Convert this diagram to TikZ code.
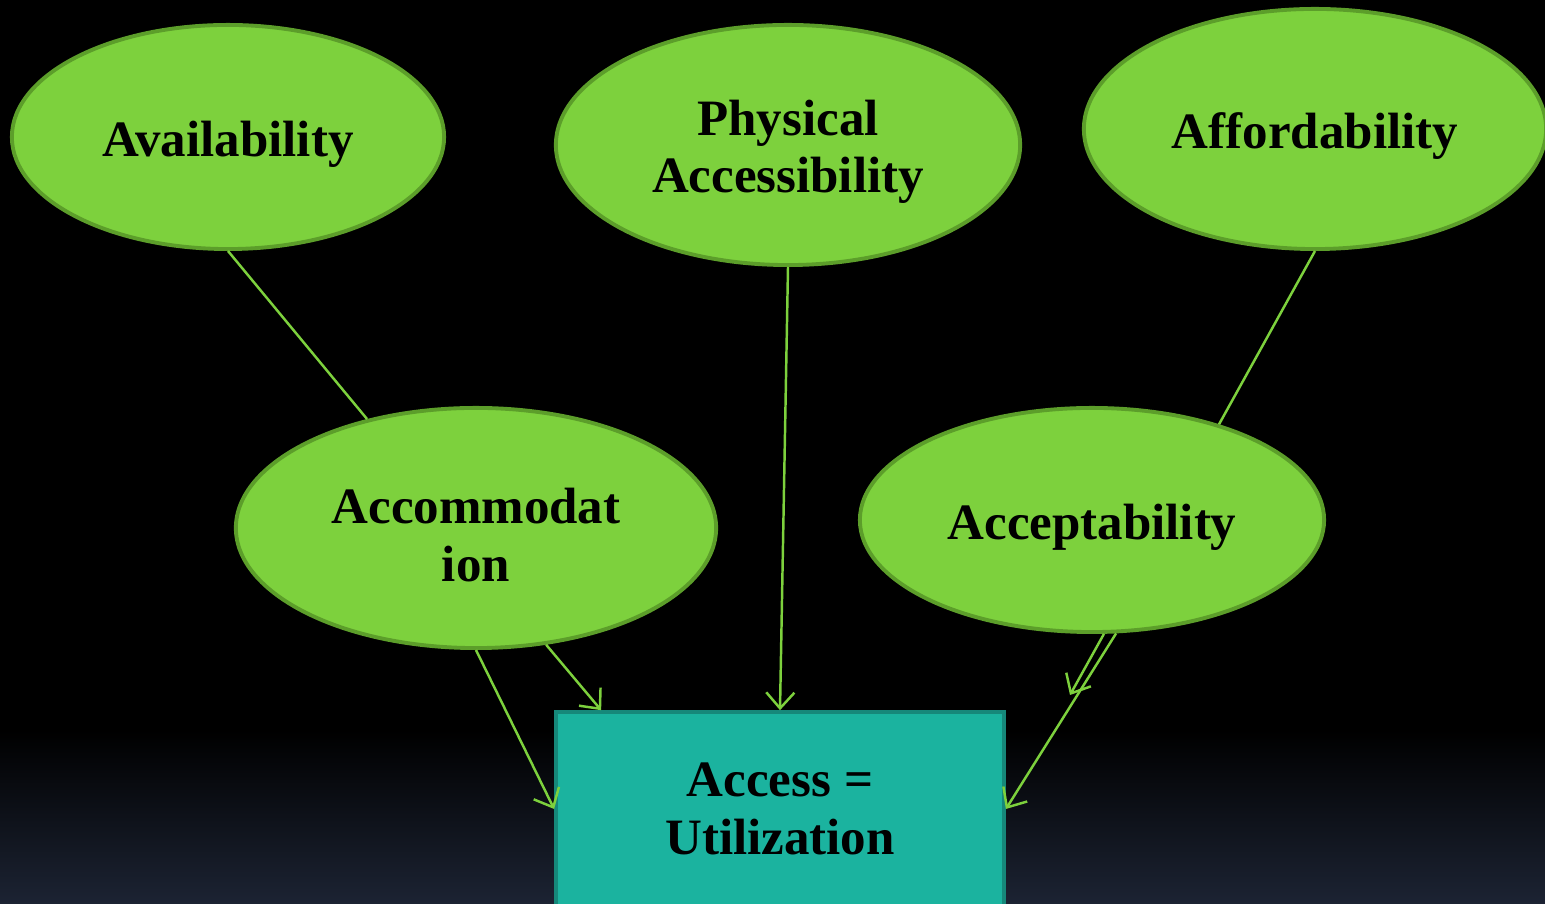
\documentclass[tikz,border=0pt]{standalone}
\usepackage{fontspec}
\setmainfont{Liberation Serif}
\usetikzlibrary{shapes.geometric,arrows.meta}

\definecolor{leaf}{RGB}{125,209,61}
\definecolor{leafdark}{RGB}{92,158,42}
\definecolor{teal}{RGB}{27,179,159}
\definecolor{tealdark}{RGB}{22,136,122}
\definecolor{navy}{RGB}{28,35,51}

% pushes the first text line a little lower in the ellipse
\newcommand{\lowtext}{\rule{0pt}{14pt}}

\begin{document}
\begin{tikzpicture}[x=0.01cm, y=-0.01cm,
  factor/.style={ellipse, draw=leafdark, line width=1.1pt, fill=leaf, inner sep=0pt,
    align=center, font=\fontsize{14.5}{16.3}\selectfont\bfseries},
  result/.style={rectangle, draw=tealdark, line width=1pt, fill=teal, inner sep=0pt,
    align=center, minimum width=4.48cm, minimum height=1.94cm,
    font=\fontsize{14.5}{16.3}\selectfont\bfseries},
  link/.style={draw=leaf, line width=0.7pt},
  flow/.style={link, -{Straight Barb[length=4.5pt, width=8pt]}}]
\useasboundingbox (0,0) rectangle (1545,904);
\clip (0,0) rectangle (1545,904);
% background
\fill[black] (0,0) rectangle (1545,904);
\shade[top color=black, bottom color=navy] (0,730) rectangle (1545,904);

% the five factors
\node[factor, minimum width=4.32cm, minimum height=2.24cm] (avail) at (228,137) {\lowtext Availability};
\node[factor, minimum width=4.64cm, minimum height=2.40cm] (phys) at (788,145) {\lowtext Physical\\Accessibility};
\node[factor, minimum width=4.62cm, minimum height=2.40cm] (afford) at (1315,129) {\lowtext Affordability};
\node[factor, minimum width=4.80cm, minimum height=2.40cm] (accom) at (476,528) {\lowtext Accommodat\\ion};
\node[factor, minimum width=4.64cm, minimum height=2.24cm] (accept) at (1092,520) {\lowtext Acceptability};

\node[result] (access) at (780,809) {Access =\\Utilization};

% connectors
\draw[link] (avail.south) -- (accom.135);
\draw[link] (afford.south) -- (accept.37);
\draw[flow] (phys.south) -- (access.north);
\draw[flow] (accom.south) -- (access.west);
\draw[flow] (accom.-59) -- ([xshift=0.47cm]access.north west);
\coordinate (stub) at (1070,695);
\draw[flow] (accept.-84) -- (stub);
\draw[flow] (accept.-78) -- (access.east);
\end{tikzpicture}
\end{document}
